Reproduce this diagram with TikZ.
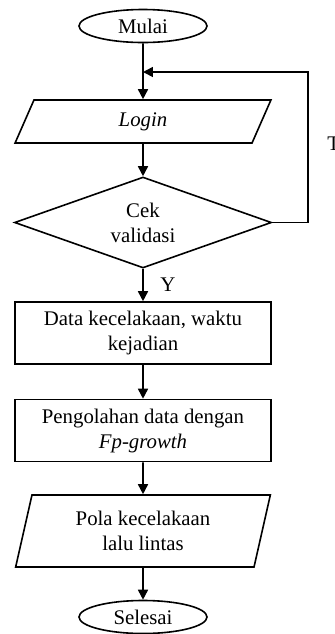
\documentclass[tikz,border=0pt]{standalone}
\usepackage{fontspec}
\setmainfont{Liberation Serif}
\usetikzlibrary{shapes.geometric,arrows.meta}

\begin{document}
\begin{tikzpicture}[x=0.5pt,y=-0.5pt,
    every node/.style={font=\fontsize{10.4}{12.5}\selectfont,align=center},
    terminal/.style={draw,ellipse,line width=0.8pt,minimum width=64pt,minimum height=16.5pt,inner sep=0pt},
    io/.style={draw,trapezium,trapezium left angle=#1,trapezium right angle={180-#1},trapezium stretches=true,line width=0.8pt,minimum width=128pt,inner sep=0pt},
    decision/.style={draw,diamond,aspect=2.8,line width=0.8pt,minimum width=128.5pt,minimum height=45.5pt,inner sep=0pt},
    process/.style={draw,rectangle,line width=0.8pt,minimum width=128pt,minimum height=31pt,inner sep=0pt},
    flow/.style={-{Triangle[length=5pt,width=5pt]},line width=0.8pt}]
    \useasboundingbox (0,0) rectangle (334,634);

    \node[terminal] (mulai) at (143,26) {Mulai};
    \node[io=77,minimum height=21.5pt] (login) at (143,121.5) {\textit{Login}};
    \node[decision] (cek) at (143,222.5) {Cek\\validasi};
    \node[process] (data) at (143,333) {Data kecelakaan, waktu\\kejadian};
    \node[process] (olah) at (143,430.5) {Pengolahan data dengan\\\textit{Fp-growth}};
    \node[io=76,minimum height=36pt] (pola) at (143,531) {Pola kecelakaan\\lalu lintas};
    \node[terminal] (selesai) at (143,617) {Selesai};

    \coordinate (masuk) at (143,72); % titik kembali ke login
    \coordinate (kanan) at (308,72);

    \draw[flow] (mulai) -- (login);
    \draw[flow] (login) -- (cek);
    \draw[flow] (cek.east) -| (kanan) -- (masuk); % validasi gagal
    \node[anchor=west,inner sep=0pt] (tidak) at (327,144) {T};
    \draw[flow] (cek) -- node[right,xshift=5pt] (ya) {Y} (data);
    \draw[flow] (data) -- (olah);
    \draw[flow] (olah) -- (pola);
    \draw[flow] (pola) -- (selesai);

\end{tikzpicture}
\end{document}
